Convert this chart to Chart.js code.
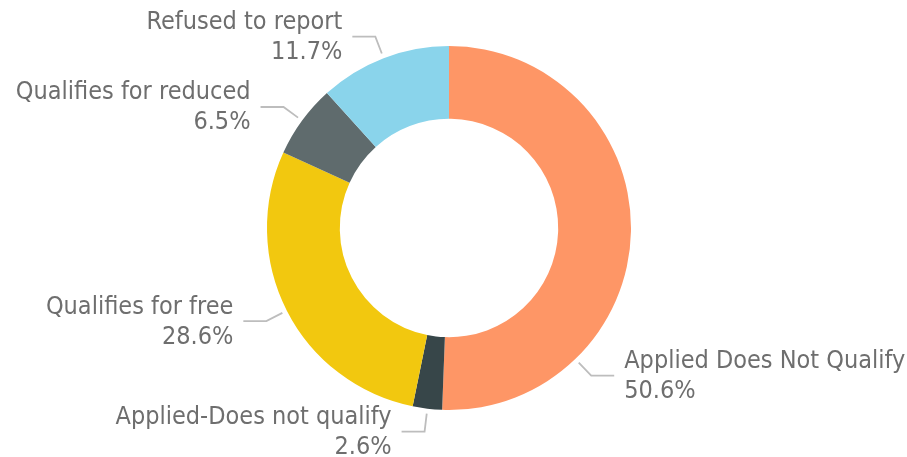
<!DOCTYPE html>
<html>
<head>
<meta charset="utf-8">
<script src="https://cdn.jsdelivr.net/npm/chart.js@4/dist/chart.umd.min.js"></script>
<style>
  html, body { margin: 0; padding: 0; background: #fff; }
  #wrap { width: 907px; height: 457px; position: relative; }
</style>
</head>
<body>
<div id="wrap"><canvas id="grafico"></canvas></div>
<script>
const categorias = [
  'Applied Does Not Qualify',
  'Applied-Does not qualify',
  'Qualifies for free',
  'Qualifies for reduced',
  'Refused to report'
];
const porcentajes = [50.6, 2.6, 28.6, 6.5, 11.7];
const colores = ['#FE9666', '#374649', '#F2C80F', '#5F6B6D', '#8AD4EB'];

// where along each slice the leader line leaves the ring (0..1)
const anclaje = [0.747, 0.5, 0.5, 0.5, 0.5];

const etiquetasGuia = {
  id: 'etiquetasGuia',
  afterDraw(chart) {
    const ctx = chart.ctx;
    const meta = chart.getDatasetMeta(0);
    ctx.save();
    ctx.font = '25px "DejaVu Sans Condensed", "DejaVu Sans", sans-serif';
    ctx.textBaseline = 'alphabetic';
    meta.data.forEach((arc, i) => {
      const p = arc.getProps(['x', 'y', 'startAngle', 'endAngle', 'outerRadius'], true);
      const a = p.startAngle + anclaje[i] * (p.endAngle - p.startAngle);
      const cos = Math.cos(a), sin = Math.sin(a);
      const derecha = cos >= 0;
      const x0 = p.x + (p.outerRadius + 5) * cos;
      const y0 = p.y + (p.outerRadius + 5) * sin;
      const x1 = p.x + (p.outerRadius + 23) * cos;
      const y1 = p.y + (p.outerRadius + 23) * sin;
      const x2 = x1 + (derecha ? 23 : -23);

      ctx.strokeStyle = '#bdbdbd';
      ctx.lineWidth = 1.8;
      ctx.beginPath();
      ctx.moveTo(x0, y0);
      ctx.lineTo(x1, y1);
      ctx.lineTo(x2, y1);
      ctx.stroke();

      const tx = x2 + (derecha ? 10 : -10);
      ctx.fillStyle = '#6e6e6e';
      ctx.textAlign = derecha ? 'left' : 'right';
      ctx.fillText(categorias[i], tx, y1 - 7.5);
      ctx.fillText(porcentajes[i].toFixed(1) + '%', tx, y1 + 22.5);
    });
    ctx.restore();
  }
};

new Chart(document.getElementById('grafico'), {
  type: 'doughnut',
  data: {
    labels: categorias,
    datasets: [{
      data: porcentajes,
      backgroundColor: colores,
      borderWidth: 0
    }]
  },
  options: {
    responsive: true,
    maintainAspectRatio: false,
    animation: false,
    cutout: '60%',
    layout: { padding: { top: 46, bottom: 47, left: 0, right: 9 } },
    plugins: {
      legend: { display: false },
      tooltip: { enabled: false }
    }
  },
  plugins: [etiquetasGuia]
});
</script>
</body>
</html>
